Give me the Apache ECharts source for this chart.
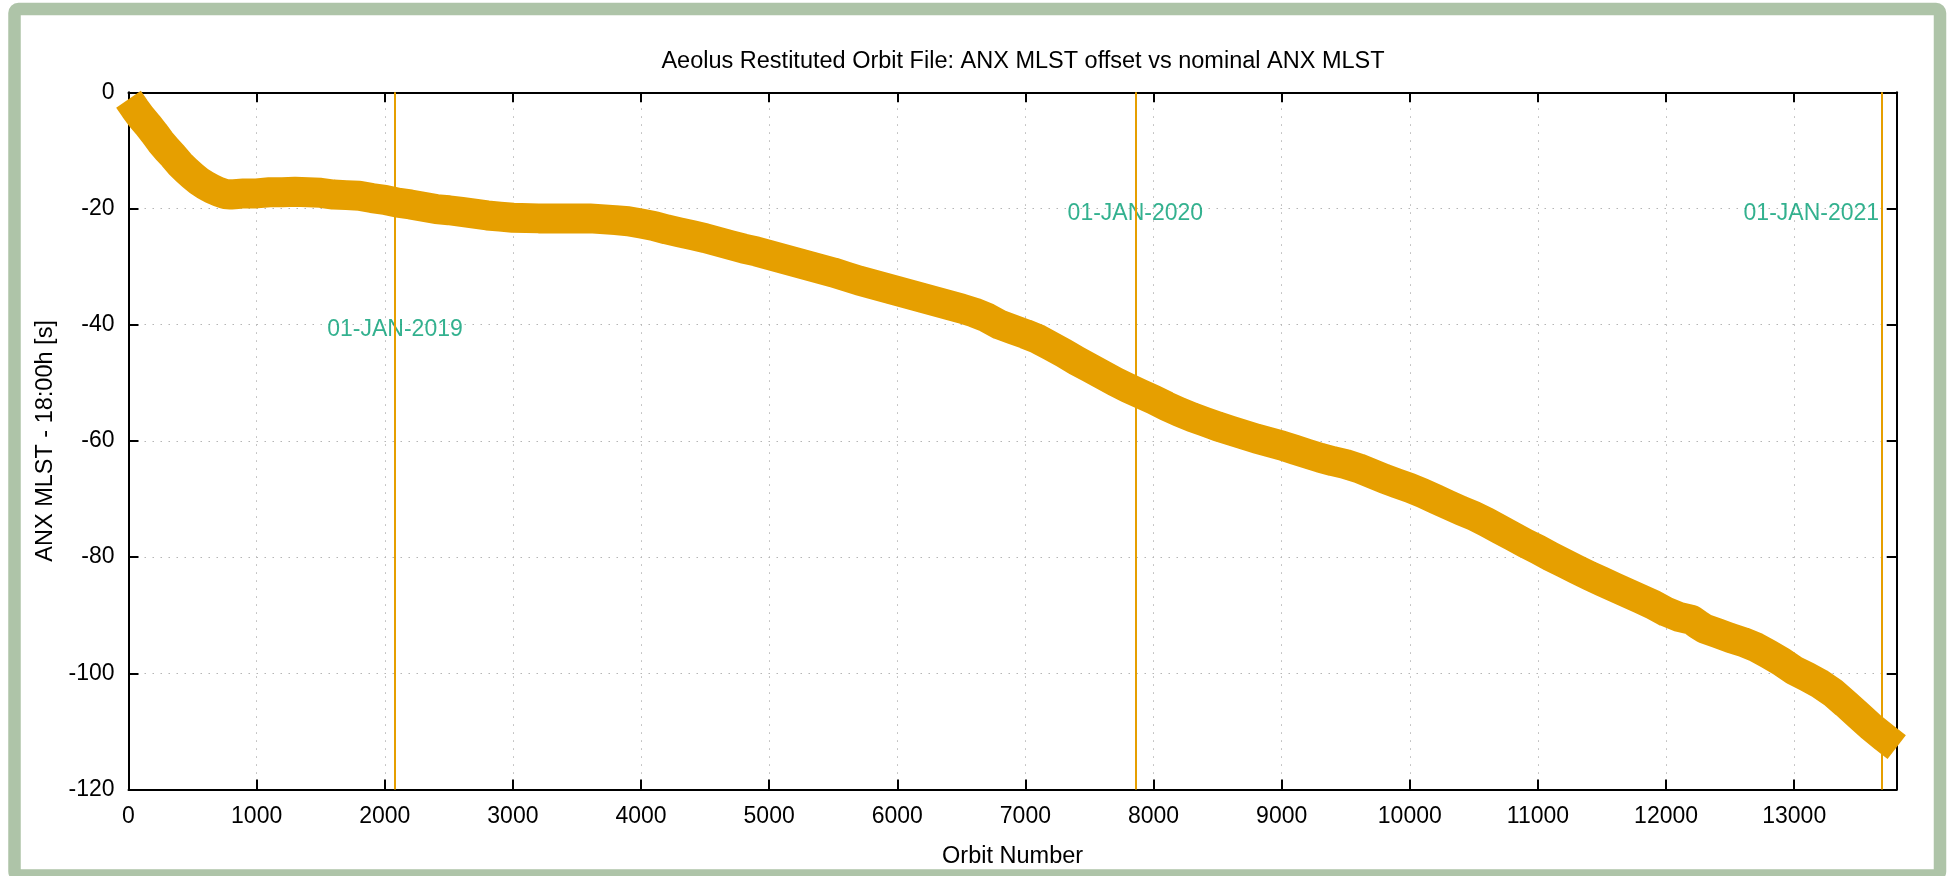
<!DOCTYPE html>
<html>
<head>
<meta charset="utf-8">
<script src="https://cdn.jsdelivr.net/npm/echarts@6/dist/echarts.min.js"></script>
<style>
  html, body { margin: 0; padding: 0; background: #ffffff; }
  #chart { width: 1947px; height: 876px; }
</style>
</head>
<body>
<div id="chart"></div>
<script>
// ---- data ----
const orbitNumber = [0, 50, 100, 150, 200, 250, 300, 350, 400, 450, 500, 550, 600, 650, 700, 750, 800, 850, 900,
  1000, 1100, 1200, 1300, 1400, 1500, 1600, 1700, 1800, 1900, 2000, 2100, 2200, 2300, 2400, 2500, 2600, 2700, 2800, 2900,
  3000, 3200, 3400, 3600, 3800, 3900, 4000, 4100, 4200, 4300, 4400, 4500, 4600, 4700, 4800, 4900,
  5000, 5100, 5200, 5300, 5400, 5500, 5600, 5700, 5800, 5900, 6000, 6100, 6200, 6300, 6400, 6500, 6600, 6700, 6800, 6900,
  7000, 7100, 7200, 7300, 7400, 7500, 7600, 7700, 7800, 7900, 8000, 8100, 8200, 8300, 8400, 8500, 8600, 8700, 8800, 8900,
  9000, 9100, 9200, 9300, 9400, 9500, 9600, 9700, 9800, 9900, 10000, 10100, 10200, 10300, 10400, 10500, 10600, 10700, 10800, 10900,
  11000, 11100, 11200, 11300, 11400, 11500, 11600, 11700, 11800, 11900, 12000, 12100, 12200, 12250, 12300, 12400, 12500, 12600, 12700, 12800, 12900,
  13000, 13100, 13200, 13300, 13400, 13500, 13600, 13700, 13800];
const mlstOffset = [-1.2, -2.8, -4.3, -5.6, -7.0, -8.5, -9.8, -11.0, -12.3, -13.4, -14.4, -15.3, -16.0, -16.6, -17.1, -17.5, -17.6, -17.5, -17.4,
  -17.4, -17.2, -17.2, -17.1, -17.2, -17.3, -17.6, -17.7, -17.8, -18.2, -18.5, -19.0, -19.3, -19.7, -20.1, -20.3, -20.6, -20.9, -21.2, -21.4,
  -21.6, -21.7, -21.7, -21.7, -22.0, -22.2, -22.6, -23.0, -23.6, -24.1, -24.6, -25.1, -25.7, -26.3, -26.9, -27.4,
  -28.0, -28.6, -29.2, -29.8, -30.4, -31.0, -31.7, -32.4, -33.0, -33.6, -34.2, -34.8, -35.4, -36.0, -36.6, -37.2, -37.9, -38.8, -40.0, -40.8,
  -41.6, -42.5, -43.7, -44.9, -46.2, -47.4, -48.6, -49.8, -50.9, -51.9, -52.9, -54.0, -55.0, -55.9, -56.7, -57.5, -58.2, -58.9, -59.6, -60.2,
  -60.8, -61.5, -62.2, -62.9, -63.5, -64.0, -64.7, -65.6, -66.5, -67.3, -68.1, -69.0, -70.0, -71.0, -72.0, -72.9, -74.0, -75.2, -76.4, -77.6,
  -78.7, -79.9, -81.0, -82.1, -83.2, -84.2, -85.2, -86.2, -87.2, -88.2, -89.4, -90.3, -90.8, -91.6, -92.3, -93.1, -93.9, -94.6, -95.5, -96.7, -98.0,
  -99.5, -100.6, -101.8, -103.3, -105.2, -107.2, -109.2, -111.0, -112.7];

const yearStartOrbit = [2080, 7858, 13686];
const yearLabelText = ['01-JAN-2019', '01-JAN-2020', '01-JAN-2021'];
const yearLabelLevel = [-40, -20, -20];

const xTickInterval = 1000;
const yTickValues = [0, -20, -40, -60, -80, -100, -120];

const titleText = 'Aeolus Restituted Orbit File: ANX MLST offset vs nominal ANX MLST';
const xAxisName = 'Orbit Number';
const yAxisName = 'ANX MLST - 18:00h [s]';

// ---- chart ----
const FONT = 'Liberation Sans, Arial, Helvetica, sans-serif';
const ORANGE = '#e69f00';
const GREEN = '#009e73';
const AXIS = '#000000';

const curve = orbitNumber.map((o, i) => [o, mlstOffset[i]]);
const lastIdx = yearStartOrbit.length - 1;
const labelPts = yearStartOrbit.map((o, i) => ({
  value: [o, yearLabelLevel[i], yearLabelText[i]],
  label: { align: i === lastIdx ? 'right' : 'center', offset: i === lastIdx ? [-3, 5] : [0, 5] }
}));

const gridDash = { color: '#b5b5b5', width: 1, type: [1.5, 6.5] };

const chart = echarts.init(document.getElementById('chart'), null, { renderer: 'canvas' });
chart.setOption({
  animation: false,
  backgroundColor: '#ffffff',
  title: {
    text: titleText,
    left: 1018,
    textAlign: 'center',
    top: 45,
    textStyle: { fontFamily: FONT, fontSize: 23.5, fontWeight: 'normal', color: '#000' }
  },
  graphic: [{
    type: 'rect',
    z: -10,
    shape: { x: 14.5, y: 9, width: 1925.5, height: 866.5, r: 4 },
    style: { fill: null, stroke: '#aec4a8', lineWidth: 12.5 }
  }],
  grid: { left: 128.5, right: 50.3, top: 92.3, bottom: 86.5, containLabel: false },
  xAxis: [{
    type: 'value', position: 'bottom', min: 0, max: 13800, interval: xTickInterval,
    axisLine: { show: true, onZero: false, lineStyle: { color: AXIS, width: 2 } },
    axisTick: { show: true, inside: true, length: 10, lineStyle: { color: AXIS, width: 2 } },
    axisLabel: { show: true, margin: 16, color: '#000', fontFamily: FONT, fontSize: 23, showMaxLabel: false,
      formatter: v => String(v) },
    splitLine: { show: true, lineStyle: gridDash },
    name: xAxisName, nameLocation: 'middle', nameGap: 55,
    nameTextStyle: { fontFamily: FONT, fontSize: 23.5, color: '#000' }
  }, {
    type: 'value', position: 'top', min: 0, max: 13800, interval: xTickInterval,
    axisLine: { show: true, onZero: false, lineStyle: { color: AXIS, width: 2 } },
    axisTick: { show: true, inside: true, length: 10, lineStyle: { color: AXIS, width: 2 } },
    axisLabel: { show: false },
    splitLine: { show: false }
  }],
  yAxis: [{
    type: 'value', position: 'left', min: -120, max: 0, interval: 20,
    axisLine: { show: true, onZero: false, lineStyle: { color: AXIS, width: 2 } },
    axisTick: { show: true, inside: true, length: 10, lineStyle: { color: AXIS, width: 2 } },
    axisLabel: { show: true, margin: 14, color: '#000', fontFamily: FONT, fontSize: 23,
      formatter: v => (yTickValues.indexOf(v) >= 0 ? String(v) : '') },
    splitLine: { show: true, lineStyle: gridDash },
    name: yAxisName, nameLocation: 'middle', nameGap: 65, nameRotate: 90,
    nameTextStyle: { fontFamily: FONT, fontSize: 23.5, color: '#000' }
  }, {
    type: 'value', position: 'right', min: -120, max: 0, interval: 20,
    axisLine: { show: true, onZero: false, lineStyle: { color: AXIS, width: 2 } },
    axisTick: { show: true, inside: true, length: 10, lineStyle: { color: AXIS, width: 2 } },
    axisLabel: { show: false },
    splitLine: { show: false }
  }],
  series: [{
    type: 'line',
    xAxisIndex: 0, yAxisIndex: 0,
    data: curve,
    showSymbol: false,
    symbol: 'none',
    clip: false,
    z: 3,
    lineStyle: { color: ORANGE, width: 30, cap: 'butt', join: 'round' }
  }, {
    type: 'scatter',
    xAxisIndex: 0, yAxisIndex: 0,
    data: labelPts,
    symbolSize: 0,
    z: 5,
    label: {
      show: true, position: 'inside', formatter: p => p.value[2],
      color: GREEN, fontFamily: FONT, fontSize: 23, verticalAlign: 'middle'
    },
    markLine: {
      silent: true,
      symbol: ['none', 'none'],
      label: { show: false },
      lineStyle: { color: ORANGE, width: 2, type: 'solid' },
      z: 6,
      data: yearStartOrbit.map(o => ({ xAxis: o }))
    }
  }]
});
</script>
</body>
</html>
